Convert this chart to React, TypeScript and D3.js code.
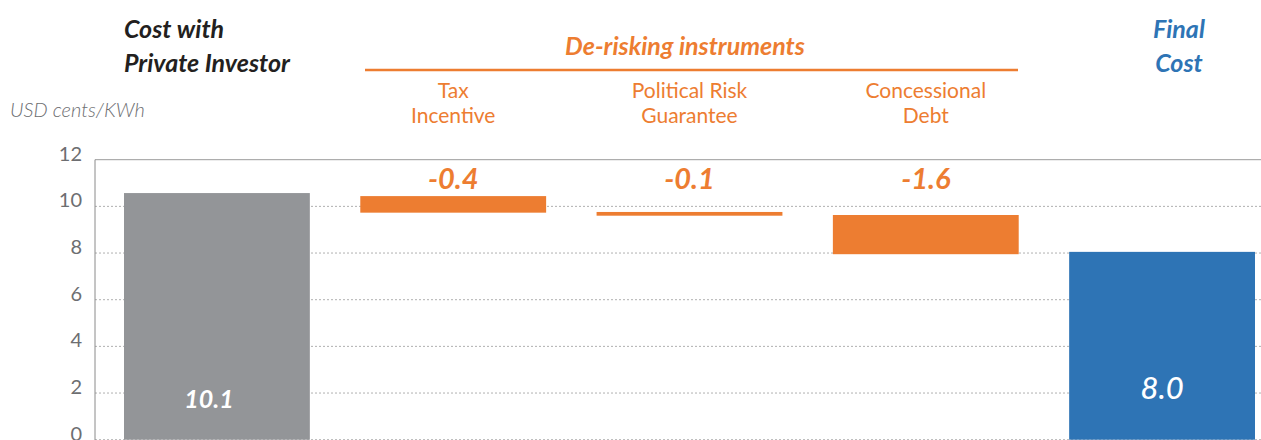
import React from "react";
import * as d3 from "d3";

const categories = ["base", "tax", "political", "concessional", "final"];
const baseValue = 10.57;
const baseLabel = "10.1";
const stepTops = [10.44, 9.76, 9.63];
const stepBottoms = [9.73, 9.6, 7.95];
const stepLabels = ["-0.4", "-0.1", "-1.6"];
const stepNames = [["Tax", "Incentive"], ["Political Risk", "Guarantee"], ["Concessional", "Debt"]];
const finalValue = 8.05;
const finalLabel = "8.0";
const yTicks = [0, 2, 4, 6, 8, 10, 12];

const W = 1261;
const H = 440;
const GRAY = "#939598";
const ORANGE = "#ED7D31";
const BLUE = "#2E74B5";
const FONT = "Lato, 'Open Sans', sans-serif";

export default function App() {
  const x = d3.scaleBand<string>().domain(categories).range([124, 1255]).paddingInner(0.2135).paddingOuter(0);
  const y = d3.scaleLinear().domain([0, 12]).range([439.7, 159.7]);
  const bw = x.bandwidth();
  const cx = (c: string) => (x(c) as number) + bw / 2;
  const axisX = 95;
  const stepCats = categories.slice(1, 4);

  return (
    <div style={{ position: "absolute", left: 0, top: 0 }}>
      <svg width={W} height={H} style={{ display: "block", fontFamily: FONT }}>
        {yTicks.map((t) => (
          <line
            key={"g" + t}
            x1={axisX}
            x2={W}
            y1={y(t)}
            y2={y(t)}
            stroke={t === 12 ? "#9a9a9a" : "#b0b0b0"}
            strokeWidth={1}
            strokeDasharray={t === 12 ? undefined : "2,2"}
          />
        ))}
        <line x1={axisX} x2={axisX} y1={y(12)} y2={H} stroke="#8a8a8a" strokeWidth={1} />
        {yTicks.map((t) => (
          <text key={"t" + t} x={82} y={y(t) - 6} dy="0.35em" textAnchor="end" fontSize={20} fill="#6d6e71" fontWeight={400}>
            {t}
          </text>
        ))}
        <rect x={x("base")} y={y(baseValue)} width={bw} height={y(0) - y(baseValue)} fill={GRAY} />
        <text x={cx("base") - 8} y={399} dy="0.35em" textAnchor="middle" fontSize={25} fontWeight={700} fontStyle="italic" fill="#fff">
          {baseLabel}
        </text>
        {stepCats.map((c, i) => (
          <g key={c}>
            <rect x={x(c)} y={y(stepTops[i])} width={bw} height={y(stepBottoms[i]) - y(stepTops[i])} fill={ORANGE} />
            <text x={cx(c)} y={179} dy="0.35em" textAnchor="middle" fontSize={29} fontWeight={700} fontStyle="italic" fill={ORANGE}>
              {stepLabels[i]}
            </text>
            {stepNames[i].map((n, j) => (
              <text key={j} x={cx(c)} y={91 + j * 25} dy="0.35em" textAnchor="middle" fontSize={21} fill={ORANGE}>
                {n}
              </text>
            ))}
          </g>
        ))}
        <rect x={x("final")} y={y(finalValue)} width={bw} height={y(0) - y(finalValue)} fill={BLUE} />
        <text x={cx("final")} y={388} dy="0.35em" textAnchor="middle" fontSize={31} fontWeight={500} fontStyle="italic" fill="#fff">
          {finalLabel}
        </text>
        <text x={124} y={38} fontSize={25} fontWeight={700} fontStyle="italic" fill="#231f20">Cost with</text>
        <text x={124} y={72} fontSize={25} fontWeight={700} fontStyle="italic" fill="#231f20">Private Investor</text>
        <text x={685} y={55} textAnchor="middle" fontSize={25} fontWeight={700} fontStyle="italic" fill={ORANGE}>
          De-risking instruments
        </text>
        <line x1={365} x2={1018} y1={70} y2={70} stroke={ORANGE} strokeWidth={2.5} />
        <text x={1179} y={38} textAnchor="middle" fontSize={25} fontWeight={700} fontStyle="italic" fill={BLUE}>Final</text>
        <text x={1179} y={72} textAnchor="middle" fontSize={25} fontWeight={700} fontStyle="italic" fill={BLUE}>Cost</text>
        <text x={10} y={110} dy="0.35em" fontSize={20} fontStyle="italic" fontWeight={300} fill="#6d6e71">USD cents/KWh</text>
      </svg>
    </div>
  );
}
